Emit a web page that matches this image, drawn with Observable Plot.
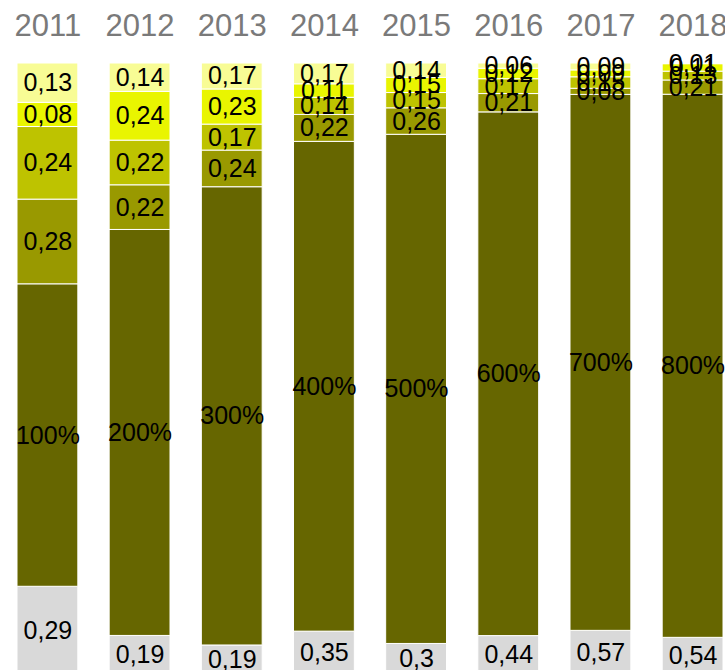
<!DOCTYPE html>
<html><head><meta charset="utf-8">
<script src="https://cdn.jsdelivr.net/npm/d3@7"></script>
<script src="https://cdn.jsdelivr.net/npm/@observablehq/plot@0.6"></script>
<style>html,body{margin:0;padding:0;background:#fff;} #chart svg{display:block}</style>
</head><body><div id="chart"></div>
<script>
const years = ["2011","2012","2013","2014","2015","2016","2017","2018"];
const gray = [0.29, 0.19, 0.19, 0.35, 0.3, 0.44, 0.57, 0.54];
const main = [1, 2, 3, 4, 5, 6, 7, 8];
const s1 = [0.28, 0.22, 0.24, 0.22, 0.26, 0.21, 0.08, 0.21];
const s2 = [0.24, 0.22, 0.17, 0.14, 0.15, 0.17, 0.15, 0.13];
const s3 = [0.08, 0.24, 0.23, 0.11, 0.15, 0.12, 0.09, 0.11];
const s4 = [0.13, 0.14, 0.17, 0.17, 0.14, 0.06, 0.09, 0.01];

const seriesNames = ["gray", "main", "s1", "s2", "s3", "s4"];
const seriesColors = ["#d9d9d9", "#666600", "#999900", "#bec300", "#e9f500", "#f8fc95"];
const seriesValues = [gray, main, s1, s2, s3, s4];

const rows = [];
years.forEach((yr, i) => seriesNames.forEach((s, j) => {
  const v = seriesValues[j][i];
  rows.push({year: yr, series: s, value: v,
    label: s === "main" ? Math.round(v * 100) + "%" : String(v).replace(".", ",")});
}));

const stackOpts = {x: "year", y: "value", z: "series", order: seriesNames, offset: "normalize"};

const chart = Plot.plot({
  width: 725, height: 670,
  marginTop: 63, marginBottom: 0, marginLeft: 17, marginRight: 2,
  style: {fontFamily: "'Liberation Sans', Arial, sans-serif", background: "#fff"},
  x: {domain: years, paddingInner: 0.34, paddingOuter: 0, round: false, axis: null},
  y: {domain: [0, 1], range: [674, 63], axis: null},
  color: {domain: seriesNames, range: seriesColors},
  marks: [
    Plot.barY(rows, Plot.stackY({...stackOpts, fill: "series", stroke: "white", strokeWidth: 1})),
    Plot.text(rows, Plot.stackY({...stackOpts, text: "label", fontSize: 25, fill: "black"})),
    Plot.text(years, {x: d => d, text: d => d, frameAnchor: "top", lineAnchor: "middle", dy: -37, fontSize: 31, fill: "#7a7a7a"})
  ]
});
document.getElementById("chart").appendChild(chart);
</script>
</body></html>
